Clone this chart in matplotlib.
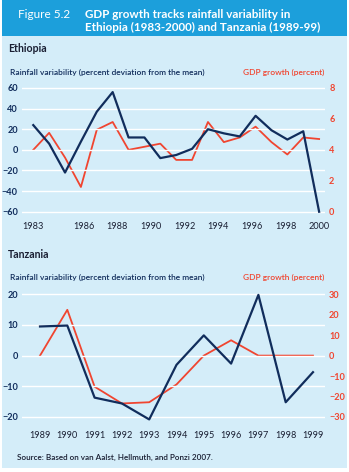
import numpy as np
import matplotlib
matplotlib.use("Agg")
import matplotlib.pyplot as plt
from matplotlib.patches import Rectangle

plt.rcParams['font.family'] = ['Lato', 'DejaVu Sans']

# ---- Data ----
eth_tick_years = [1983, 1986, 1988, 1990, 1992, 1994, 1996, 1998, 2000]
eth_rain = [24, 6, -22, 8, 37, 56, 12, 12, -8, -5, 1, 20, 16, 13, 33, 19, 10, 18, -60]
eth_gdp = [4.0, 5.1, 3.5, 1.6, 5.3, 5.8, 4.0, 4.2, 4.4, 3.35, 3.35, 5.8, 4.5, 4.8, 5.5, 4.5, 3.7, 4.8, 4.7]

tza_years = [1989, 1990, 1991, 1992, 1993, 1994, 1995, 1996, 1997, 1998, 1999]
tza_rain = [9.5, 9.8, -13.7, -15.6, -20.8, -3, 6.6, -2.6, 19.8, -15.2, -5.4]
tza_gdp = [0, 22.4, -15.2, -23.4, -22.8, -14.1, 0, 7.5, 0, 0, 0]

NAVY = '#112d5c'
RED = '#f04530'
BG = '#d4edf9'
HEAD = '#1c9fdb'
DARK = '#1a1f33'

W, H = 349, 472
fig = plt.figure(figsize=(W / 100, H / 100), dpi=100)
fig.patch.set_facecolor('white')

def px(x, y):
    return x / W, 1 - y / H

fig.add_artist(Rectangle(px(2, 468), (W - 4) / W, (468 - 2) / H, transform=fig.transFigure,
                         facecolor=BG, edgecolor='none', zorder=-10))
fig.add_artist(Rectangle(px(2, 36), (W - 4) / W, 36 / H, transform=fig.transFigure,
                         facecolor=HEAD, edgecolor='none', zorder=-9))

fig.text(*px(18, 15), 'Figure 5.2', color='white', fontsize=8.5, va='center', ha='left')
fig.text(*px(85, 14), 'GDP growth tracks rainfall variability in', color='white',
         fontsize=8.4, fontweight='bold', va='center', ha='left')
fig.text(*px(85, 27), 'Ethiopia (1983-2000) and Tanzania (1989-99)', color='white',
         fontsize=8.4, fontweight='bold', va='center', ha='left')

def style(ax, ax2, lcol, rcol):
    for a in (ax, ax2):
        a.set_facecolor('none')
        for s in a.spines.values():
            s.set_visible(False)
        a.tick_params(length=0)
    ax.tick_params(axis='y', colors=lcol, labelsize=6.6, pad=3)
    ax2.tick_params(axis='y', colors=rcol, labelsize=6.6, pad=3)
    ax.tick_params(axis='x', colors=DARK, labelsize=6.6, pad=6)
    for lab in ax.get_yticklabels() + ax2.get_yticklabels():
        lab.set_fontweight('bold')
    ax.grid(axis='y', color='white', linewidth=1.0)
    ax.set_axisbelow(True)

LBL = dict(fontsize=6.0, fontweight='semibold', va='center')

# ---- Ethiopia ----
fig.text(*px(8, 49), 'Ethiopia', color=DARK, fontsize=7.6, fontweight='bold', va='center')
fig.text(*px(10, 72), 'Rainfall variability (percent deviation from the mean)', color=NAVY, **LBL)
fig.text(*px(324, 72), 'GDP growth (percent)', color=RED, ha='right', **LBL)

n = len(eth_rain)
xe = np.arange(n)
ax1 = fig.add_axes([22 / W, 1 - 213.8 / H, (325 - 22) / W, (213.8 - 85.9) / H])
ax1b = ax1.twinx()
ax1.plot(xe, eth_rain, color=NAVY, lw=1.6, zorder=3)
ax1b.plot(xe, eth_gdp, color=RED, lw=1.3, zorder=2)
ax1.set_zorder(ax1b.get_zorder() + 1)
ax1.set_ylim(-62, 62)
ax1b.set_ylim((-62 + 60) / 15, (62 + 60) / 15)
ax1.set_yticks(np.arange(-60, 61, 20))
ax1b.set_yticks(np.arange(0, 9, 2))
ax1.set_xlim(-0.71, 18.37)
tick_pos = [(y - eth_tick_years[0]) * (n - 1) / (eth_tick_years[-1] - eth_tick_years[0]) for y in eth_tick_years]
ax1.set_xticks(tick_pos)
ax1.set_xticklabels([str(y) for y in eth_tick_years])
style(ax1, ax1b, NAVY, RED)
ax1.patch.set_visible(False)

# ---- Tanzania ----
fig.text(*px(8, 254), 'Tanzania', color=DARK, fontsize=7.6, fontweight='bold', va='center')
fig.text(*px(10, 277), 'Rainfall variability (percent deviation from the mean)', color=NAVY, **LBL)
fig.text(*px(324, 277), 'GDP growth (percent)', color=RED, ha='right', **LBL)

ax2 = fig.add_axes([22 / W, 1 - 423.1 / H, (325 - 22) / W, (423.1 - 291.2) / H])
ax2b = ax2.twinx()
ax2.plot(tza_years, tza_rain, color=NAVY, lw=1.6, zorder=3)
ax2b.plot(tza_years, tza_gdp, color=RED, lw=1.3, zorder=2)
ax2.set_zorder(ax2b.get_zorder() + 1)
ax2.set_ylim(-22, 21)
ax2b.set_ylim(-33, 31.5)
ax2.set_yticks([-20, -10, 0, 10, 20])
ax2b.set_yticks([-30, -20, -10, 0, 10, 20, 30])
ax2.set_xlim(1988.34, 1999.44)
ax2.set_xticks(tza_years)
ax2.set_xticklabels([str(y) for y in tza_years])
style(ax2, ax2b, NAVY, RED)
ax2.patch.set_visible(False)

fig.text(*px(17, 457), 'Source: Based on van Aalst, Hellmuth, and Ponzi 2007.', color=DARK,
         fontsize=5.9, fontweight='semibold', va='center')

fig.savefig('out.png', dpi=100, facecolor=fig.get_facecolor())
